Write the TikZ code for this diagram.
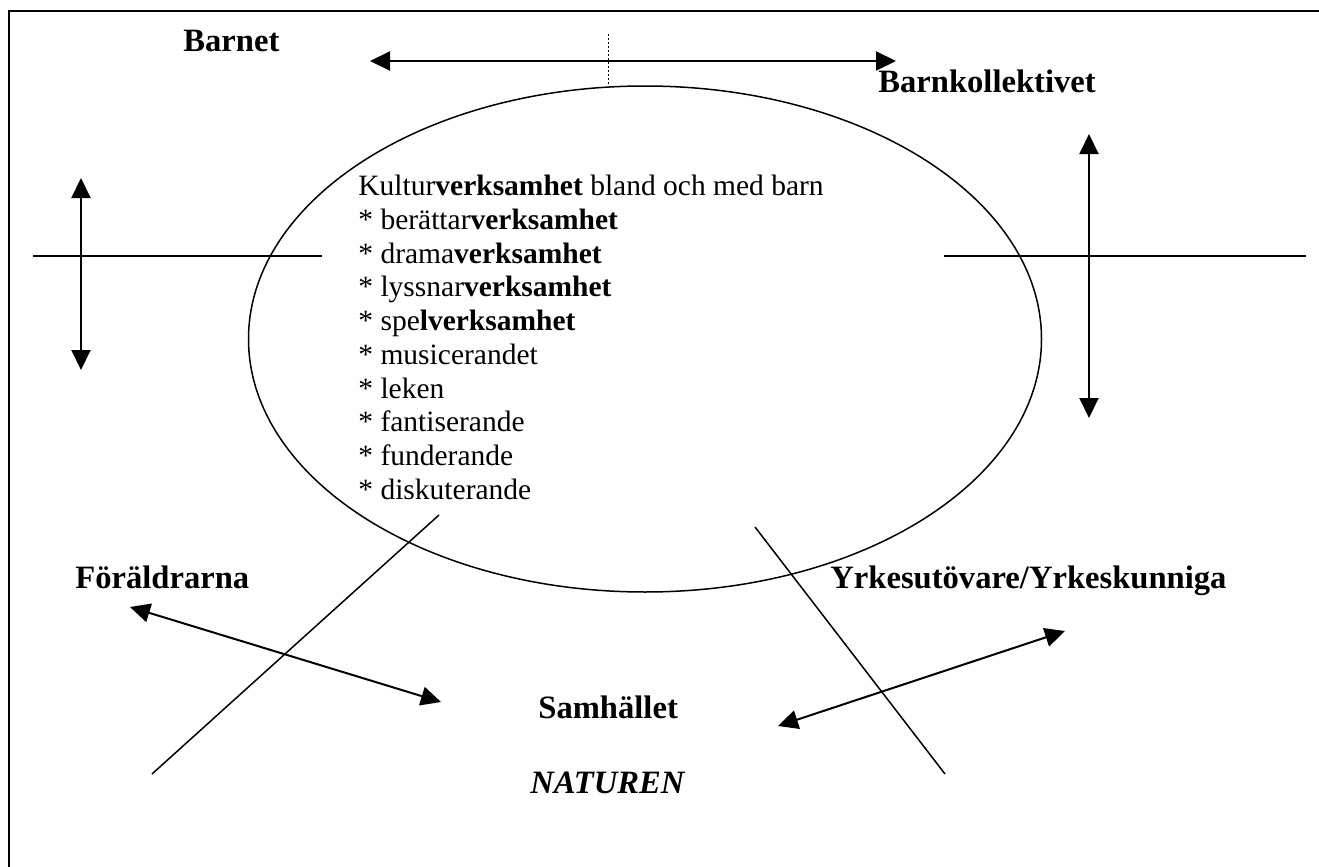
\documentclass[tikz,border=0pt]{standalone}
\usepackage{fontspec}
\setmainfont{Liberation Serif}
\usetikzlibrary{arrows.meta}

\begin{document}
\begin{tikzpicture}[x=0.5pt,y=-0.5pt,
  lab/.style = {font=\fontsize{16.3}{19}\selectfont\bfseries, inner sep=0pt, anchor=base west},
  arr/.style = {{Triangle[length=10pt,width=9.5pt]}-{Triangle[length=10pt,width=9.5pt]}, line width=1pt},
  rule/.style = {line width=0.75pt}]
        \useasboundingbox (0,0) rectangle (1319,867);
        \draw[line width=0.8pt] (9,867) -- (9,11) -- (1319,11);
        \draw[rule] (645,339) ellipse [x radius=198.25pt, y radius=126.5pt];
        \node[lab] (barnet) at (183,52) {Barnet};
        \node[lab] (kollektiv) at (878,92) {Barnkollektivet};
        \node[lab] (foraldrar) at (75,588) {Föräldrarna};
        \node[lab] (yrke) at (830,588) {Yrkesutövare/Yrkeskunniga};
        \node[lab] (samhallet) at (538,718) {Samhället};
        \node[lab, font=\fontsize{16.3}{19}\selectfont\bfseries\itshape] (natur) at (530,793) {NATUREN};
        \node[anchor=north west, inner sep=0pt, align=left, font=\fontsize{14.75}{16.85}\selectfont] (lista) at (358,175)
          {Kultur\textbf{verksamhet} bland och med barn\\
           * berättar\textbf{verksamhet}\\
           * drama\textbf{verksamhet}\\
           * lyssnar\textbf{verksamhet}\\
           * spe\textbf{lverksamhet}\\
           * musicerandet\\
           * leken\\
           * fantiserande\\
           * funderande\\
           * diskuterande};
        \coordinate (t1) at (370,61); \coordinate (t2) at (896,61);
        \coordinate (d1) at (608,34); \coordinate (d2) at (608,86);
        \coordinate (h1) at (33,256); \coordinate (h2) at (322,256);
        \coordinate (h3) at (944,256); \coordinate (h4) at (1306,256);
        \coordinate (v1) at (81,178); \coordinate (v2) at (81,370);
        \coordinate (v3) at (1089,134); \coordinate (v4) at (1089,418);
        \coordinate (s1) at (439,515); \coordinate (s2) at (152,774);
        \coordinate (s3) at (755,527); \coordinate (s4) at (945,774);
        \coordinate (p1) at (130,607); \coordinate (p2) at (441,702);
        \coordinate (p3) at (778,726); \coordinate (p4) at (1065,631);
        \draw[arr] (t1) -- (t2);
        \draw[line width=0.5pt, dash pattern=on 1pt off 1pt] (d1) -- (d2);
        \draw[rule] (h1) -- (h2);
        \draw[rule] (h3) -- (h4);
        \draw[arr] (v1) -- (v2);
        \draw[arr] (v3) -- (v4);
        \draw[rule] (s1) -- (s2);
        \draw[rule] (s3) -- (s4);
        \draw[arr] (p1) -- (p2);
        \draw[arr] (p3) -- (p4);
\end{tikzpicture}
\end{document}
